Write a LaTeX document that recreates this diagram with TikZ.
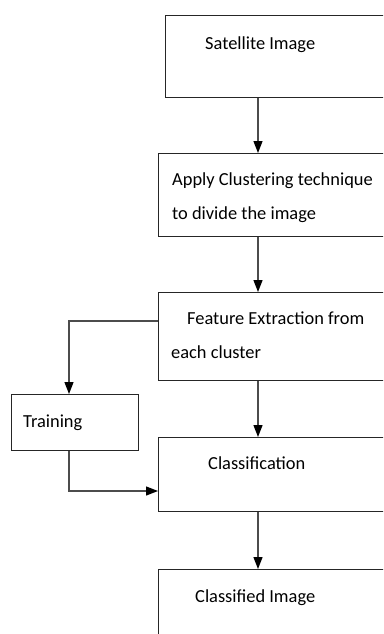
\documentclass[tikz,border=0pt]{standalone}
\usepackage{fontspec}
\setmainfont{Carlito}
\usetikzlibrary{arrows.meta}
\usetikzlibrary{positioning}

\tikzset{
    stagebox/.style={draw=black!85, line width=1.4pt, inner sep=0pt, anchor=north west},
    stagetext/.style={anchor=base west, inner sep=0pt, align=left,
        font=\fontsize{18.4}{34}\selectfont},
    flow/.style={draw=black!70, line width=1.3pt,
        -{Triangle[width=9pt,length=12pt,color=black]}}
}

\begin{document}
\begin{tikzpicture}[x=1pt,y=-1pt]
    % Page and parameters
    \clip (0,0) rectangle (383,634);
    \pgfmathsetmacro{\boxright}{400}
    \coordinate (spine) at (258,0);
    \coordinate (tap) at (69,321);
    \coordinate (knee) at (69,491);

    % Boxes
    \node[stagebox, minimum width={\boxright-165}, minimum height=82] (sat) at (165,15) {};
    \node[stagebox, minimum width={\boxright-158}, minimum height=83] (clus) at (158,153) {};
    \node[stagebox, minimum width={\boxright-158}, minimum height=88] (feat) at (158,292) {};
    \node[stagebox, minimum width=127, minimum height=56] (train) at (11,394) {};
    \node[stagebox, minimum width={\boxright-158}, minimum height=74] (cls) at (158,437) {};
    \node[stagebox, minimum width={\boxright-158}, minimum height=90] (out) at (158,569) {};

    % Texts (base = last line)
    \node[stagetext] (sattext) at (205,49) {Satellite Image};
    \node[stagetext] (clustext) at (172,219) {Apply Clustering technique\\to divide the image};
    \node[stagetext] (feattext) at (171,358) {\hspace{16pt}Feature Extraction from\\each cluster};
    \node[stagetext] (traintext) at (23,427) {Training};
    \node[stagetext] (clstext) at (208,469) {Classification};
    \node[stagetext] (outtext) at (195,602) {Classified Image};

    % Arrows
    \draw[flow] (sat.south -| spine) -- (clus.north -| spine);
    \draw[flow] (clus.south -| spine) -- (feat.north -| spine);
    \draw[flow] (feat.south -| spine) -- (cls.north -| spine);
    \draw[flow] (cls.south -| spine) -- (out.north -| spine);
    \draw[flow] (feat.west |- tap) -- (tap) -- (train.north -| tap);
    \draw[flow] (train.south -| knee) -- (knee) -- (cls.west |- knee);
\end{tikzpicture}
\end{document}
